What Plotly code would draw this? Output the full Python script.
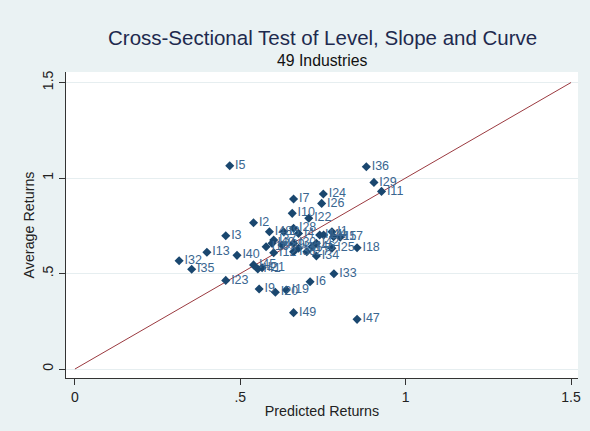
import plotly.graph_objects as go

# industry labels with predicted (x) and average (y) returns
industries = ['I1', 'I2', 'I3', 'I4', 'I5', 'I6', 'I7', 'I8', 'I9', 'I10',
              'I11', 'I12', 'I13', 'I14', 'I15', 'I16', 'I17', 'I18', 'I19', 'I20',
              'I21', 'I22', 'I23', 'I24', 'I25', 'I26', 'I27', 'I28', 'I29', 'I30',
              'I31', 'I32', 'I33', 'I34', 'I35', 'I36', 'I37', 'I38', 'I39', 'I40',
              'I41', 'I42', 'I43', 'I44', 'I45', 'I46', 'I47', 'I48', 'I49']
predicted = [0.777, 0.540, 0.456, 0.676, 0.468, 0.711, 0.661, 0.631, 0.557, 0.657,
             0.927, 0.601, 0.399, 0.740, 0.782, 0.578, 0.802, 0.853, 0.639, 0.606,
             0.566, 0.707, 0.456, 0.751, 0.777, 0.746, 0.701, 0.661, 0.904, 0.661,
             0.676, 0.315, 0.783, 0.730, 0.353, 0.881, 0.601, 0.661, 0.626, 0.490,
             0.553, 0.730, 0.596, 0.752, 0.540, 0.717, 0.853, 0.588, 0.661]
average = [0.719, 0.766, 0.698, 0.710, 1.064, 0.457, 0.890, 0.719, 0.419, 0.815,
           0.930, 0.609, 0.611, 0.702, 0.693, 0.640, 0.690, 0.635, 0.414, 0.402,
           0.530, 0.789, 0.464, 0.916, 0.632, 0.867, 0.614, 0.737, 0.977, 0.658,
           0.632, 0.567, 0.499, 0.592, 0.522, 1.059, 0.675, 0.614, 0.649, 0.595,
           0.524, 0.658, 0.658, 0.702, 0.545, 0.640, 0.260, 0.719, 0.295]

line_x = [0, 1.5]
line_y = [0, 1.5]

x_ticks = [0, 0.5, 1, 1.5]
x_tick_text = ['0', '.5', '1', '1.5']
y_ticks = [0, 0.5, 1, 1.5]
y_tick_text = ['0', '.5', '1', '1.5']

fig = go.Figure()

fig.add_trace(go.Scatter(
    x=line_x, y=line_y, mode='lines',
    line=dict(color='#9b3a40', width=1),
    hoverinfo='skip'
))

fig.add_trace(go.Scatter(
    x=predicted, y=average, text=industries,
    mode='markers+text', textposition='middle right',
    marker=dict(symbol='diamond', size=7, color='#1a476f'),
    textfont=dict(family='Liberation Sans, Arial', size=12.5, color='#3a6690')
))

fig.add_annotation(
    text='Cross-Sectional Test of Level, Slope and Curve',
    xref='paper', yref='paper', x=0.5, y=1.114, yanchor='middle',
    showarrow=False,
    font=dict(family='Liberation Sans, Arial', size=20.5, color='#1e2a4e')
)
fig.add_annotation(
    text='49 Industries',
    xref='paper', yref='paper', x=0.5, y=1.039, yanchor='middle',
    showarrow=False,
    font=dict(family='Liberation Sans, Arial', size=15.8, color='#111111')
)

fig.update_layout(
    width=590, height=431,
    margin=dict(l=66, r=12, t=72, b=53),
    paper_bgcolor='#eaf2f3',
    plot_bgcolor='#ffffff',
    showlegend=False,
    font=dict(family='Liberation Sans, Arial', size=14, color='#222222'),
    xaxis=dict(
        range=[-0.027, 1.521], tickvals=x_ticks, ticktext=x_tick_text,
        showgrid=False, zeroline=False, automargin=False,
        showline=True, linecolor='#333333', linewidth=1,
        ticks='outside', ticklen=6, tickcolor='#333333',
        title=dict(text='Predicted Returns', font=dict(size=14.3), standoff=2)
    ),
    yaxis=dict(
        range=[-0.047, 1.555], tickvals=y_ticks, ticktext=y_tick_text,
        tickangle=-90, automargin=False,
        showgrid=True, gridcolor='#e6eef0', gridwidth=1, zeroline=False,
        showline=True, linecolor='#333333', linewidth=1,
        ticks='outside', ticklen=6, tickcolor='#333333',
        title=dict(text='Average Returns', font=dict(size=14.3), standoff=2)
    )
)

fig.write_html("out.html",
               config={'displayModeBar': False},
               post_script="document.body.style.margin='0';"
                           "document.body.style.background='#eaf2f3';")
